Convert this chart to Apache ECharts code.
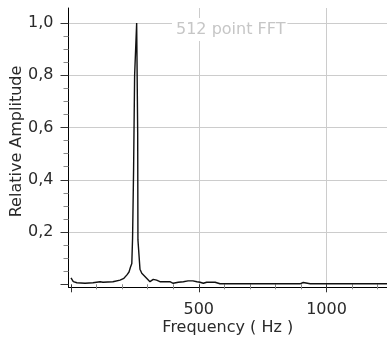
<!DOCTYPE html>
<html>
<head>
<meta charset="utf-8">
<script src="https://cdn.jsdelivr.net/npm/echarts@6/dist/echarts.min.js"></script>
<style>
  html, body { margin: 0; padding: 0; background: #fff; }
  #chart { width: 387px; height: 342px; }
</style>
</head>
<body>
<div id="chart"></div>
<script>
// spectrum (Hz, relative amplitude)
const frequencies = [0, 9, 23, 55, 86, 114, 120, 125, 164, 192, 207, 219, 227, 233, 238, 241, 245, 249, 257, 261, 262, 270, 277, 283, 296, 309, 322, 335, 348, 387, 400, 420, 440, 458, 477, 493, 505, 518, 531, 564, 583, 600, 694, 700, 706, 714, 720, 726, 740, 746, 752, 884, 890, 896, 903, 909, 915, 936, 942, 948, 1138, 1144, 1150, 1300];
const amplitudes = [0.025, 0.010, 0.006, 0.004, 0.006, 0.010, 0.016, 0.008, 0.010, 0.016, 0.023, 0.036, 0.047, 0.066, 0.08, 0.177, 0.44, 0.80, 1.00, 0.58, 0.17, 0.058, 0.042, 0.036, 0.023, 0.010, 0.019, 0.016, 0.010, 0.010, 0.004, 0.008, 0.010, 0.013, 0.013, 0.010, 0.008, 0.004, 0.008, 0.008, 0.002, 0.002, 0.002, 0.007, 0.002, 0.002, 0.007, 0.002, 0.002, 0.007, 0.002, 0.002, 0.007, 0.002, 0.002, 0.007, 0.002, 0.002, 0.007, 0.002, 0.002, 0.007, 0.002, 0.002];

const xTickValues = [500, 1000];
const xTickLabels = ['500', '1000'];
const yTickValues = [0.2, 0.4, 0.6, 0.8, 1.0];
const yTickLabels = ['0,2', '0,4', '0,6', '0,8', '1,0'];

const titleText = '512 point FFT';
const xName = 'Frequency ( Hz )';
const yName = 'Relative Amplitude';

const font = 'DejaVu Sans';
const gridColor = '#cccccc';
const textColor = '#2a2a2a';

const lookup = (values, labels) => (v) => {
  const i = values.findIndex((t) => Math.abs(t - v) < 1e-6);
  return i < 0 ? '' : labels[i];
};

const chart = echarts.init(document.getElementById('chart'), null, { renderer: 'canvas' });

chart.setOption({
  animation: false,
  backgroundColor: '#fff',
  title: {
    text: titleText,
    left: 172,
    top: 18,
    padding: [4, 2, 3, 4],
    backgroundColor: '#fff',
    textStyle: { color: '#c6c6c6', fontFamily: font, fontSize: 16, fontWeight: 'normal' }
  },
  grid: [
    // 0: axis lines + names
    { left: 68.5, right: 0, top: 8, bottom: 55, containLabel: false, outerBoundsMode: 'none' },
    // 1: y ticks, labels, horizontal grid
    { left: 68.5, right: 0, top: 23, bottom: 57.7, containLabel: false, outerBoundsMode: 'none' },
    // 2: data + x ticks, labels, vertical grid
    { left: 71, right: -67.25, top: 8, bottom: 55, containLabel: false, outerBoundsMode: 'none' }
  ],
  xAxis: [
    {
      gridIndex: 0, type: 'value', min: 0, max: 1,
      axisLine: { show: true, lineStyle: { color: '#000', width: 1 } },
      axisTick: { show: false }, axisLabel: { show: false }, splitLine: { show: false },
      name: xName, nameLocation: 'middle', nameGap: 33,
      nameTextStyle: { color: textColor, fontFamily: font, fontSize: 16 }
    },
    {
      gridIndex: 1, type: 'value', show: false, min: 0, max: 1
    },
    {
      gridIndex: 2, type: 'value', min: 0, max: 1500, interval: 500,
      axisLine: { show: false },
      axisTick: { show: true, length: 8, lineStyle: { color: '#333' } },
      minorTick: { show: true, splitNumber: 5, length: 5, lineStyle: { color: '#888' } },
      axisLabel: {
        show: true, margin: 15, color: textColor, fontFamily: font, fontSize: 16,
        formatter: lookup(xTickValues, xTickLabels)
      },
      splitLine: { show: true, showMinLine: false, lineStyle: { color: gridColor, width: 1 } },
      minorSplitLine: { show: false }
    }
  ],
  yAxis: [
    {
      gridIndex: 0, type: 'value', min: 0, max: 1,
      axisLine: { show: true, lineStyle: { color: '#000', width: 1 } },
      axisTick: { show: false }, axisLabel: { show: false }, splitLine: { show: false },
      name: yName, nameLocation: 'middle', nameGap: 44,
      nameTextStyle: { color: textColor, fontFamily: font, fontSize: 16, padding: [0, 0, 0, 12] }
    },
    {
      gridIndex: 1, type: 'value', min: 0, max: 1, interval: 0.2,
      axisLine: { show: false },
      axisTick: { show: true, length: 8, lineStyle: { color: '#333' } },
      minorTick: { show: true, splitNumber: 4, length: 5, lineStyle: { color: '#888' } },
      axisLabel: {
        show: true, margin: 15, color: textColor, fontFamily: font, fontSize: 16,
        formatter: lookup(yTickValues, yTickLabels)
      },
      splitLine: { show: true, showMinLine: false, lineStyle: { color: gridColor, width: 1 } }
    },
    {
      gridIndex: 2, type: 'value', show: false, min: -0.0103, max: 1.0574
    }
  ],
  series: [
    {
      type: 'line',
      xAxisIndex: 2,
      yAxisIndex: 2,
      data: frequencies.map((f, i) => [f, amplitudes[i]]),
      showSymbol: false,
      symbol: 'none',
      lineStyle: { color: '#111', width: 1.4 },
      z: 5
    }
  ]
});
</script>
</body>
</html>
